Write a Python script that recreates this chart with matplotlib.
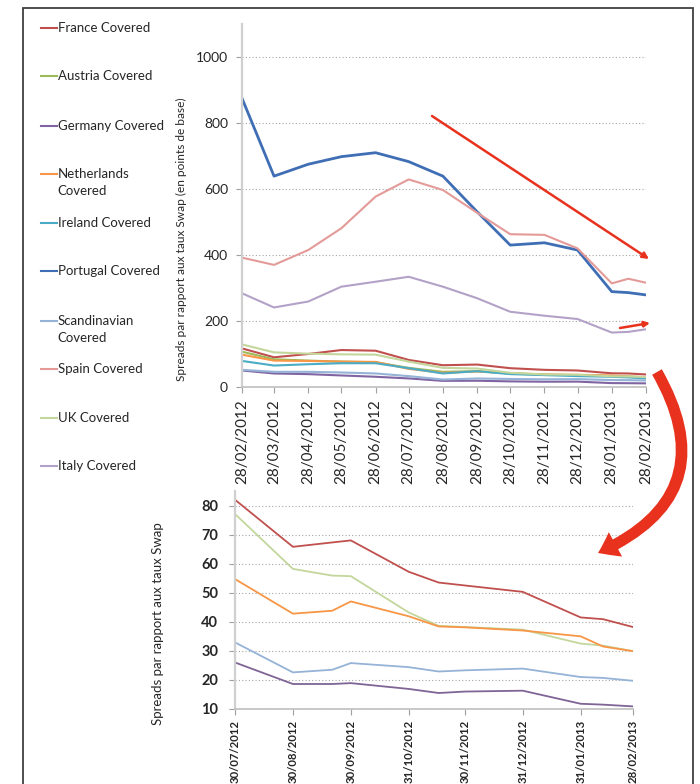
import matplotlib
matplotlib.use("Agg")
import matplotlib.pyplot as plt
import pandas as pd
from matplotlib.lines import Line2D
from matplotlib.patches import FancyArrowPatch, Rectangle

plt.rcParams['font.family'] = ['Lato', 'DejaVu Sans']

# --- spreads vs swap, Feb 2012 -> Feb 2013 (bp) ---
top_dates = pd.to_datetime([
    "28/02/2012", "28/03/2012", "28/04/2012", "28/05/2012", "28/06/2012",
    "28/07/2012", "28/08/2012", "28/09/2012", "28/10/2012", "28/11/2012",
    "28/12/2012", "28/01/2013", "12/02/2013", "28/02/2013"], dayfirst=True)
top_ticks = pd.to_datetime([
    "28/02/2012", "28/03/2012", "28/04/2012", "28/05/2012", "28/06/2012",
    "28/07/2012", "28/08/2012", "28/09/2012", "28/10/2012", "28/11/2012",
    "28/12/2012", "28/01/2013", "28/02/2013"], dayfirst=True)

france = [117, 90, 100, 112, 110, 82, 66, 68, 57, 52, 50, 41.5, 41, 38]
austria = [107, 84, 80, 77, 75, 58, 46, 48, 41, 37, 36, 33, 32, 29]
germany = [50, 41, 39, 35, 31, 26, 18.6, 19, 17, 16, 16.3, 11.8, 11.5, 11]
netherlands = [98, 80, 79, 77, 76, 55, 43, 47, 42, 38, 37, 35, 31.5, 30]
ireland = [79, 65, 69, 72, 72, 57, 41, 48, 39, 36, 33, 31, 29, 26]
portugal = [875, 639, 675, 698, 710, 683, 639, 531, 430, 437, 415, 289, 286, 279]
scandinavian = [52, 46, 46, 44, 41, 33, 22.6, 25.8, 24.4, 23.3, 23.9, 21, 20.7, 19.7]
spain = [392, 370, 415, 481, 577, 629, 597, 528, 463, 461, 420, 314, 328, 316]
uk = [129, 105, 101, 99, 98, 77, 58, 56, 43, 38, 37, 32.5, 31.8, 30]
italy = [284, 241, 259, 304, 319, 334, 304, 269, 228, 216, 206, 165, 167, 175]

names = ["France Covered", "Austria Covered", "Germany Covered",
         "Netherlands\nCovered", "Ireland Covered", "Portugal Covered",
         "Scandinavian\nCovered", "Spain Covered", "UK Covered", "Italy Covered"]
colors = ["#C0504D", "#9BBB59", "#8064A2", "#F79646", "#4BACC6",
          "#3F6EB5", "#95B3D7", "#E39A98", "#C3D69B", "#B3A2C7"]
series = [france, austria, germany, netherlands, ireland,
          portugal, scandinavian, spain, uk, italy]

# --- zoom on Jul 2012 -> Feb 2013 ---
zoom_dates = pd.to_datetime([
    "30/07/2012", "30/08/2012", "20/09/2012", "30/09/2012", "31/10/2012",
    "16/11/2012", "30/11/2012", "31/12/2012", "31/01/2013", "12/02/2013",
    "28/02/2013"], dayfirst=True)
zoom_ticks = pd.to_datetime([
    "30/07/2012", "30/08/2012", "30/09/2012", "31/10/2012", "30/11/2012",
    "31/12/2012", "31/01/2013", "28/02/2013"], dayfirst=True)
zoom_france = [82, 65.8, 67.3, 68, 57.2, 53.5, 52.5, 50.3, 41.5, 40.9, 38.2]
zoom_uk = [77.1, 58.2, 55.9, 55.7, 43.2, 38.6, 38.2, 37.3, 32.5, 31.8, 29.9]
zoom_netherlands = [54.7, 42.8, 43.8, 47.0, 41.9, 38.4, 38.1, 37.0, 35.0, 31.5, 29.9]
zoom_scandinavian = [32.9, 22.6, 23.5, 25.8, 24.4, 22.9, 23.3, 23.9, 21.0, 20.7, 19.7]
zoom_germany = [26.0, 18.6, 18.6, 18.9, 16.9, 15.5, 16.0, 16.3, 11.8, 11.5, 10.9]
zoom_series = [zoom_france, zoom_uk, zoom_netherlands, zoom_scandinavian, zoom_germany]
zoom_colors = ["#C0504D", "#C3D69B", "#F79646", "#95B3D7", "#7F6496"]

W, H = 700, 784
fig = plt.figure(figsize=(W / 100, H / 100), dpi=100)


def box(x0, y0, x1, y1):
    return [x0 / W, 1 - y1 / H, (x1 - x0) / W, (y1 - y0) / H]


def px(x, y):
    return (x / W, 1 - y / H)


def style_axes(ax):
    for s in ("top", "right"):
        ax.spines[s].set_visible(False)
    ax.spines["left"].set_color("#D0D0D0")
    ax.spines["left"].set_linewidth(1.6)
    ax.spines["bottom"].set_color("#BFBFBF")
    ax.spines["bottom"].set_linewidth(1.2)
    ax.grid(axis="y", linestyle=(0, (1, 2)), color="#A6A6A6", lw=0.8)
    ax.set_axisbelow(True)
    ax.tick_params(color="#A0A0A0", length=4, width=0.8)


# outer frame
fig.add_artist(Rectangle(px(23, 900), (693 - 23) / W, (900 - 8) / H,
                         transform=fig.transFigure, fill=False,
                         ec="#404040", lw=1.3))

# top chart
ax1 = fig.add_axes(box(242, 24, 646, 387))
for vals, c, n in zip(series, colors, names):
    ax1.plot(top_dates, vals, color=c, lw=2.0 if n.startswith("Portugal") else 1.5)
ax1.set_xlim(top_ticks[0], top_ticks[-1])
ax1.set_ylim(0, 1100)
ax1.set_yticks(range(0, 1001, 200))
ax1.set_xticks(top_ticks)
ax1.set_xticklabels([d.strftime("%d/%m/%Y") for d in top_ticks], rotation=90,
                    fontsize=11, color="#262626")
ax1.tick_params(axis="y", labelsize=10, labelcolor="#262626", pad=6)
ax1.tick_params(axis="x", pad=5)
style_axes(ax1)
fig.text(*px(181, 239), "Spreads par rapport aux taux Swap (en points de base)",
         rotation=90, ha="center", va="center", fontsize=8.6, color="#262626")

# legend
legend_y = [28, 76, 126, 174, 223, 271, 321, 369, 418, 466]
for n, c, y in zip(names, colors, legend_y):
    fig.add_artist(Line2D([41 / W, 57 / W], [1 - y / H] * 2, color=c, lw=1.5,
                          transform=fig.transFigure))
    for k, part in enumerate(n.split("\n")):
        fig.text(*px(57.5, y + 17 * k), part, ha="left", va="center",
                 fontsize=9.5, color="#262626")

# bottom chart
ax2 = fig.add_axes(box(235, 491, 633, 709))
for vals, c in zip(zoom_series, zoom_colors):
    ax2.plot(zoom_dates, vals, color=c, lw=1.3)
ax2.set_xlim(zoom_ticks[0], zoom_ticks[-1])
ax2.set_ylim(10, 85)
yt = list(range(10, 81, 10))
ax2.set_yticks(yt, labels=[str(v) for v in yt], fontsize=10.5,
               fontweight="bold", color="#262626")
ax2.set_xticks(zoom_ticks)
ax2.set_xticklabels([d.strftime("%d/%m/%Y") for d in zoom_ticks], rotation=90,
                    fontsize=8.2, fontweight="bold", color="#262626")
ax2.tick_params(axis="y", pad=8)
ax2.tick_params(axis="x", pad=4)
style_axes(ax2)
fig.text(*px(158, 624), "Spreads par rapport aux taux Swap",
         rotation=90, ha="center", va="center", fontsize=9.5, color="#262626")

# red trend arrows
red = "#E8321E"
fig.add_artist(FancyArrowPatch(px(432, 116), px(649, 259), transform=fig.transFigure,
                               arrowstyle="-|>", mutation_scale=9, lw=1.8,
                               color=red, shrinkA=0, shrinkB=0))
fig.add_artist(FancyArrowPatch(px(620, 328), px(650, 323), transform=fig.transFigure,
                               arrowstyle="-|>", mutation_scale=8, lw=1.8,
                               color=red, shrinkA=0, shrinkB=0))
fig.add_artist(FancyArrowPatch(px(657, 372), px(598, 553), transform=fig.transFigure,
                               connectionstyle="arc3,rad=-0.55",
                               arrowstyle="simple,head_length=1.4,head_width=2.0,tail_width=0.8",
                               mutation_scale=10, color=red, lw=0,
                               shrinkA=0, shrinkB=0))

fig.savefig("out.png", dpi=100)
